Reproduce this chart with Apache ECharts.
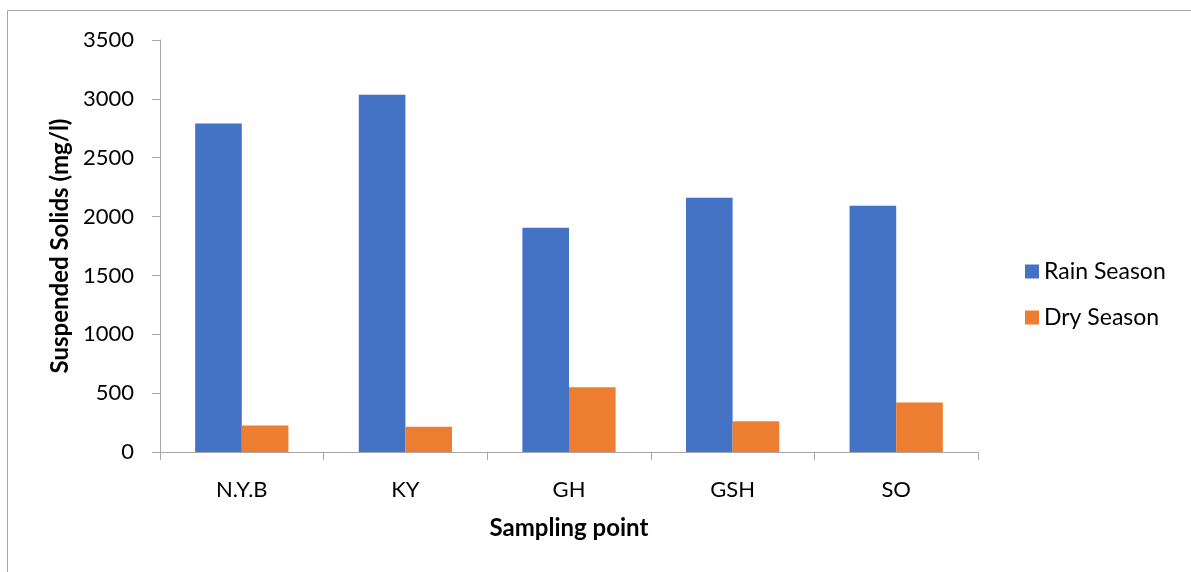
<!DOCTYPE html>
<html><head><meta charset="utf-8">
<script src="https://cdn.jsdelivr.net/npm/echarts@6/dist/echarts.min.js"></script>
<style>html,body{margin:0;padding:0;background:#fff}#c{width:1191px;height:572px}</style>
</head><body><div id="c"></div>
<script>
const categories = ['N.Y.B', 'KY', 'GH', 'GSH', 'SO'];
const rainSeason = [2790, 3035, 1905, 2160, 2092];
const drySeason = [225, 215, 550, 262, 420];
const yTicks = { min: 0, max: 3500, interval: 500 };

const font = 'Lato, "Open Sans", sans-serif';
const chart = echarts.init(document.getElementById('c'));
chart.setOption({
  backgroundColor: '#fff',
  animation: false,
  graphic: [{
    type: 'polyline', silent: true,
    shape: { points: [[7.5, 572], [7.5, 10.5], [1191, 10.5]] },
    style: { stroke: '#a6a6a6', lineWidth: 1, fill: null }
  }],
  grid: { left: 160, right: 213, top: 40, bottom: 120 },
  legend: {
    orient: 'vertical', left: 1020, top: 255, itemGap: 23,
    itemWidth: 14, itemHeight: 14, icon: 'rect',
    textStyle: { fontFamily: font, fontSize: 23, color: '#000' },
    data: ['Rain Season', 'Dry Season']
  },
  xAxis: {
    type: 'category', data: categories,
    name: 'Sampling point', nameLocation: 'middle', nameGap: 64,
    nameTextStyle: { fontFamily: font, fontSize: 24, fontWeight: 'bold', color: '#000' },
    axisLine: { lineStyle: { color: '#a6a6a6', width: 1 } },
    axisTick: { show: true, length: 8, lineStyle: { color: '#a6a6a6' } },
    axisLabel: { fontFamily: font, fontSize: 22, color: '#000', margin: 27 }
  },
  yAxis: {
    type: 'value', min: yTicks.min, max: yTicks.max, interval: yTicks.interval,
    name: 'Suspended Solids (mg/l)', nameLocation: 'middle', nameGap: 86, nameRotate: 90,
    nameTextStyle: { fontFamily: font, fontSize: 24, fontWeight: 'bold', color: '#000' },
    axisLine: { show: true, lineStyle: { color: '#a6a6a6', width: 1 } },
    axisTick: { show: true, length: 8, lineStyle: { color: '#a6a6a6' } },
    splitLine: { show: false },
    axisLabel: { fontFamily: font, fontSize: 22, color: '#000', margin: 26, formatter: v => String(v) }
  },
  series: [
    { name: 'Rain Season', type: 'bar', data: rainSeason, barGap: '0%', barCategoryGap: '43%',
      itemStyle: { color: '#4472c4' } },
    { name: 'Dry Season', type: 'bar', data: drySeason, barGap: '0%', barCategoryGap: '43%',
      itemStyle: { color: '#ed7d31' } }
  ]
});
</script></body></html>
